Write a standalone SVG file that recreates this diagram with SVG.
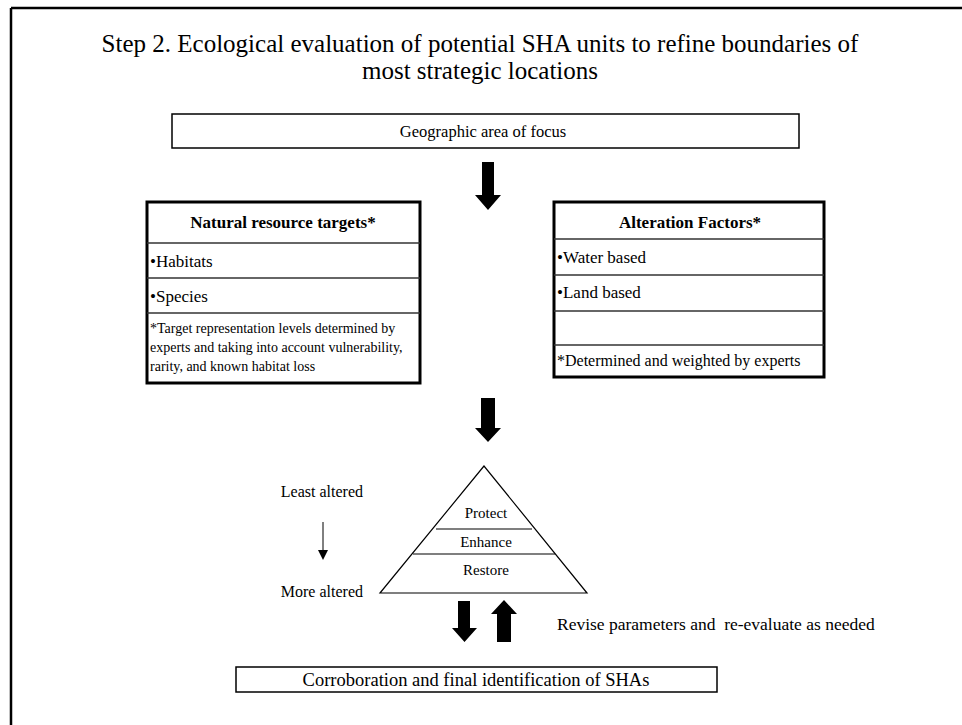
<svg xmlns="http://www.w3.org/2000/svg" width="962" height="725" viewBox="0 0 962 725">
<style>
text{font-family:"Liberation Serif","Times New Roman",serif;fill:#000}
.title{font-size:25px}
.body{font-size:16.5px}
.hdr{font-size:17px;font-weight:bold}
.row{font-size:17px}
.note{font-size:14px}
.note2{font-size:16px}
.pyr{font-size:15px}
.side{font-size:16px}
.rev{font-size:17.5px}
.fin{font-size:18.5px}
.tbl{fill:#fff;stroke:#000;stroke-width:3}
.div{stroke:#333;stroke-width:1.5}
.box{fill:#fff;stroke:#000;stroke-width:1.5}
.blk{fill:#000}
</style>
<rect width="962" height="725" fill="#fff"/>
<g id="frame">
<line x1="11" y1="8" x2="962" y2="8" stroke="#000" stroke-width="2.5"/>
<line x1="11" y1="8" x2="11" y2="725" stroke="#000" stroke-width="2.5"/>
</g>
<g id="title">
<text class="title" x="480" y="52" text-anchor="middle">Step 2. Ecological evaluation of potential SHA units to refine boundaries of</text>
<text class="title" x="480" y="79" text-anchor="middle">most strategic locations</text>
</g>
<g id="geo">
<rect class="box" x="172" y="114" width="627" height="34"/>
<text class="body" x="483" y="137" text-anchor="middle">Geographic area of focus</text>
</g>
<g id="targets">
<rect class="tbl" x="147" y="202" width="273" height="181"/>
<line class="div" x1="147" y1="243" x2="420" y2="243"/>
<line class="div" x1="147" y1="278" x2="420" y2="278"/>
<line class="div" x1="147" y1="313" x2="420" y2="313"/>
<text class="hdr" x="283" y="228" text-anchor="middle">Natural resource targets*</text>
<text class="row" x="150" y="267">•Habitats</text>
<text class="row" x="150" y="302">•Species</text>
<text class="note" x="150" y="333">*Target representation levels determined by</text>
<text class="note" x="150" y="352">experts and taking into account vulnerability,</text>
<text class="note" x="150" y="371">rarity, and known habitat loss</text>
</g>
<g id="factors">
<rect class="tbl" x="554" y="202" width="270" height="175"/>
<line class="div" x1="554" y1="239" x2="824" y2="239"/>
<line class="div" x1="554" y1="275" x2="824" y2="275"/>
<line class="div" x1="554" y1="311" x2="824" y2="311"/>
<line class="div" x1="554" y1="345" x2="824" y2="345"/>
<text class="hdr" x="690" y="228" text-anchor="middle">Alteration Factors*</text>
<text class="row" x="557" y="263">•Water based</text>
<text class="row" x="557" y="298">•Land based</text>
<text class="note2" x="557" y="366">*Determined and weighted by experts</text>
</g>
<g id="pyramid">
<polygon points="484,466 380,593 587,593" fill="#fff" stroke="#000" stroke-width="1.2"/>
<line x1="436" y1="529" x2="532" y2="529" stroke="#000" stroke-width="1.2"/>
<line x1="413" y1="554" x2="555" y2="554" stroke="#000" stroke-width="1.2"/>
<text class="pyr" x="486" y="518" text-anchor="middle">Protect</text>
<text class="pyr" x="486" y="547" text-anchor="middle">Enhance</text>
<text class="pyr" x="486" y="575" text-anchor="middle">Restore</text>
</g>
<g id="scale">
<text class="side" x="363" y="497" text-anchor="end">Least altered</text>
<text class="side" x="363" y="597" text-anchor="end">More altered</text>
</g>
<g id="revise">
<text class="rev" x="557" y="630" xml:space="preserve">Revise parameters and  re-evaluate as needed</text>
</g>
<g id="final">
<rect class="box" x="236" y="667" width="481" height="25"/>
<text class="fin" x="476" y="686" text-anchor="middle">Corroboration and final identification of SHAs</text>
</g>
<g id="connectors">
<polygon class="blk" points="482,162 494,162 494,195 501,195 488,210 475,195 482,195"/>
<polygon class="blk" points="481,398 495,398 495,428 501,428 488,442 475,428 481,428"/>
<polygon class="blk" points="458,601 470,601 470,628 477,628 464.5,642 452,628 458,628"/>
<polygon class="blk" points="497,642 511,642 511,614 517,614 504,600 491,614 497,614"/>
<line x1="323" y1="522" x2="323" y2="551" stroke="#000" stroke-width="1"/>
<polygon class="blk" points="318,550 328,550 323,560"/>
</g>
</svg>
